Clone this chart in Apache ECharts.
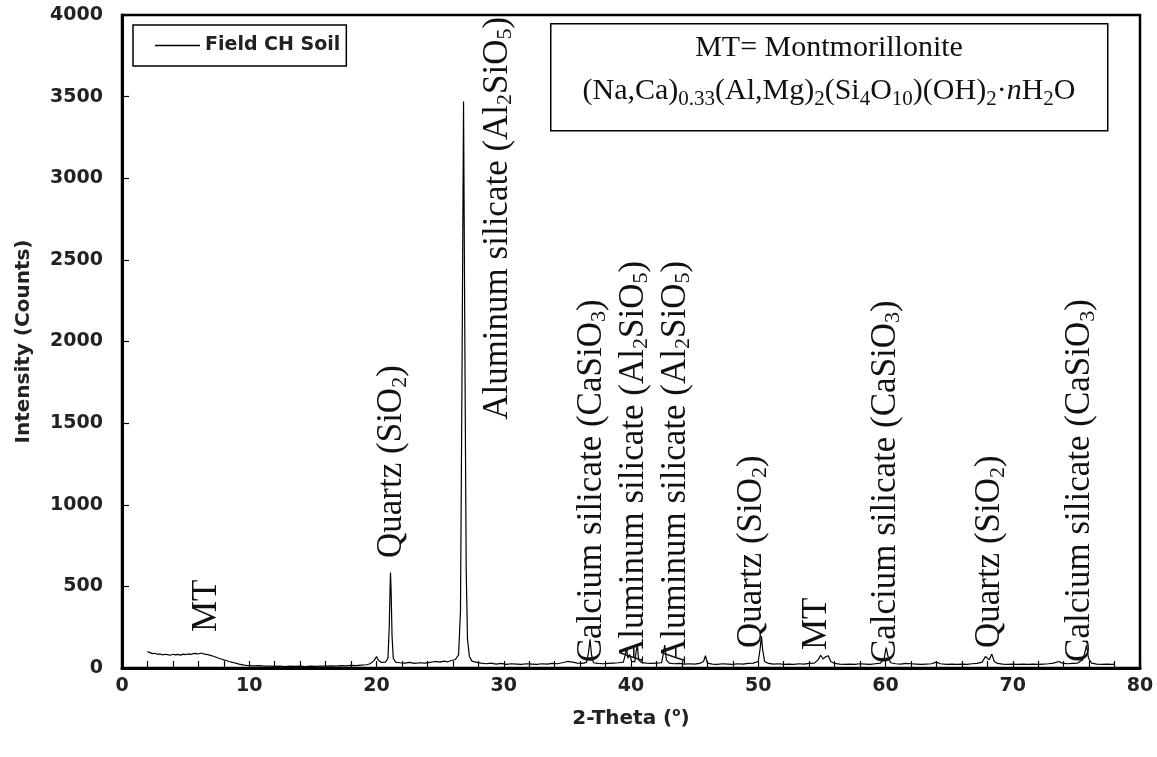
<!DOCTYPE html>
<html>
<head>
<meta charset="utf-8">
<title>XRD - Field CH Soil</title>
<script src="https://cdn.jsdelivr.net/npm/echarts@6/dist/echarts.min.js"></script>
<style>
  html, body { margin: 0; padding: 0; background: #fff; }
  #chart { width: 1157px; height: 757px; }
</style>
</head>
<body>
<div id="chart"></div>
<script>
// XRD pattern: 2-theta (deg) and intensity (counts)
var thetaDeg = [
  2.0, 2.2, 2.4, 2.6, 2.8, 3.0, 3.2, 3.4, 3.6, 3.8, 4.0, 4.2, 4.4, 4.6, 4.8, 5.0, 5.2, 5.4, 5.6, 5.8,
  6.0, 6.2, 6.4, 6.6, 6.8, 7.0, 7.2, 7.4, 7.6, 7.8, 8.0, 8.2, 8.4, 8.6, 8.8, 9.0, 9.2, 9.4, 9.6, 9.8,
  10.0, 10.4, 10.8, 11.2, 11.6, 12.0, 12.4, 12.8, 13.2, 13.6, 14.0, 14.4, 14.8, 15.2, 15.6, 16.0, 16.4, 16.8, 17.2, 17.6,
  18.0, 18.4, 18.8, 19.2, 19.5, 19.8, 20.0, 20.15, 20.4, 20.7, 20.9, 21.0, 21.07, 21.1, 21.15, 21.22, 21.32, 21.5, 21.8, 22.2,
  22.6, 23.0, 23.4, 23.8, 24.2, 24.6, 25.0, 25.3, 25.6, 25.9, 26.2, 26.45, 26.6, 26.72, 26.84, 26.95, 27.05, 27.15, 27.3, 27.5,
  27.8, 28.2, 28.6, 29.0, 29.4, 29.8, 30.2, 30.6, 31.0, 31.4, 31.8, 32.2, 32.6, 33.0, 33.4, 33.8, 34.2, 34.6, 35.0, 35.4,
  35.8, 36.2, 36.5, 36.65, 36.78, 36.9, 37.05, 37.4, 37.8, 38.2, 38.6, 39.0, 39.4, 39.55, 39.65, 39.75, 39.9, 40.05, 40.3, 40.42,
  40.5, 40.6, 40.8, 41.2, 41.6, 42.0, 42.4, 42.55, 42.65, 42.78, 43.0, 43.4, 43.8, 44.2, 44.6, 45.0, 45.4, 45.7, 45.85, 46.0,
  46.4, 46.8, 47.2, 47.6, 48.0, 48.4, 48.8, 49.2, 49.6, 50.0, 50.15, 50.25, 50.35, 50.5, 50.8, 51.2, 51.6, 52.0, 52.4, 52.8,
  53.2, 53.6, 54.0, 54.4, 54.7, 54.9, 55.1, 55.3, 55.5, 55.7, 56.0, 56.4, 56.8, 57.2, 57.6, 58.0, 58.4, 58.8, 59.2, 59.6,
  59.9, 60.05, 60.2, 60.4, 60.8, 61.2, 61.6, 62.0, 62.4, 62.8, 63.2, 63.6, 64.0, 64.3, 64.8, 65.2, 65.6, 66.0, 66.4, 66.8,
  67.2, 67.6, 67.85, 68.0, 68.15, 68.35, 68.55, 68.8, 69.2, 69.6, 70.0, 70.4, 70.8, 71.2, 71.6, 72.0, 72.4, 72.8, 73.2, 73.6,
  73.9, 74.3, 74.7, 75.1, 75.5, 75.7, 75.8, 75.95, 76.2, 76.6, 77.0, 77.4, 77.8, 78.0
];
var counts = [
  100, 94, 88, 90, 84, 86, 80, 84, 82, 78, 84, 80, 83, 79, 85, 82, 86, 83, 88, 90,
  86, 92, 87, 84, 80, 76, 72, 66, 60, 55, 50, 46, 40, 36, 32, 28, 24, 21, 18, 16,
  15, 13, 14, 11, 12, 10, 12, 9, 11, 10, 12, 9, 11, 10, 12, 11, 13, 12, 14, 13,
  16, 15, 18, 20, 26, 45, 70, 48, 34, 36, 60, 250, 500, 585, 470, 200, 60, 36, 32, 30,
  34, 28, 32, 30, 35, 40, 36, 42, 38, 46, 52, 80, 350, 1800, 3470, 1900, 600, 180, 70, 42,
  36, 30, 26, 30, 24, 28, 22, 26, 24, 22, 26, 24, 22, 26, 24, 28, 26, 32, 40, 36,
  30, 28, 34, 90, 175, 80, 32, 28, 26, 28, 30, 32, 36, 80, 125, 60, 82, 40, 38, 110,
  140, 50, 34, 30, 28, 30, 32, 90, 140, 50, 30, 26, 28, 24, 26, 24, 28, 40, 75, 30,
  24, 22, 26, 24, 22, 26, 24, 28, 30, 40, 120, 195, 110, 40, 28, 24, 26, 22, 24, 22,
  26, 24, 28, 30, 50, 78, 55, 70, 75, 40, 28, 24, 22, 24, 22, 26, 24, 22, 26, 30,
  60, 125, 70, 32, 26, 24, 28, 26, 24, 22, 24, 26, 36, 26, 22, 24, 22, 24, 22, 26,
  28, 36, 70, 80, 50, 85, 40, 28, 24, 22, 24, 22, 24, 22, 24, 22, 24, 26, 30, 40,
  30, 26, 28, 30, 50, 105, 140, 60, 30, 24, 22, 24, 22, 24
];

// phase annotations: where each label starts (2-theta, counts) and its text
var phaseTheta = [6.7, 21.2, 29.5, 36.9, 40.2, 43.5, 49.5, 54.6, 60.0, 68.2, 75.3];
var phaseCount = [220, 674, 1520, 35, 25, 25, 122, 110, 30, 122, 37];
var phaseNames = [
  'MT',
  'Quartz (SiO{s|2})',
  'Aluminum silicate (Al{s|2}SiO{s|5})',
  'Calcium silicate (CaSiO{s|3})',
  'Aluminum silicate (Al{s|2}SiO{s|5})',
  'Aluminum silicate (Al{s|2}SiO{s|5})',
  'Quartz (SiO{s|2})',
  'MT',
  'Calcium silicate (CaSiO{s|3})',
  'Quartz (SiO{s|2})',
  'Calcium silicate (CaSiO{s|3})'
];

var seriesName = 'Field CH Soil';
var noteLines = [
  'MT= Montmorillonite',
  '(Na,Ca){s|0.33}(Al,Mg){s|2}(Si{s|4}O{s|10})(OH){s|2}·{i|n}H{s|2}O'
];

var pattern = thetaDeg.map(function (t, i) { return [t, counts[i]]; });
var phases = phaseTheta.map(function (t, i) { return [t, phaseCount[i]]; });

var serif = 'Liberation Serif, Times New Roman, serif';
var sans = 'DejaVu Sans, sans-serif';

var chart = echarts.init(document.getElementById('chart'));

var option = {
  animation: false,
  backgroundColor: '#fff',
  grid: {
    left: 122,
    right: 17,
    top: 15,
    bottom: 89,
    show: true,
    borderColor: '#000',
    borderWidth: 2.5
  },
  legend: {
    left: 133,
    top: 25,
    data: [{ name: seriesName, icon: 'rect' }],
    itemWidth: 45,
    itemHeight: 1.5,
    itemGap: 5,
    padding: [11, 6, 11, 22],
    borderColor: '#000',
    borderWidth: 1.5,
    itemStyle: { color: '#000' },
    textStyle: {
      fontFamily: sans,
      fontWeight: 'bold',
      fontSize: 19,
      color: '#222'
    }
  },
  xAxis: {
    type: 'value',
    min: 0,
    max: 80,
    interval: 10,
    name: '2-Theta ({sup|o})',
    nameLocation: 'middle',
    nameGap: 39,
    nameTextStyle: {
      fontFamily: sans,
      fontWeight: 'bold',
      fontSize: 20,
      color: '#222',
      lineHeight: 24,
      rich: {
        sup: { fontFamily: sans, fontSize: 12, fontWeight: 'bold', height: 12, verticalAlign: 'top', color: '#222' }
      }
    },
    axisLine: { lineStyle: { color: '#000', width: 3 } },
    axisTick: { inside: true, length: 7, lineStyle: { color: '#000', width: 1.2 } },
    minorTick: { show: true, splitNumber: 5, length: 7, lineStyle: { color: '#000', width: 1.2 } },
    splitLine: { show: false },
    axisLabel: {
      margin: 9,
      fontFamily: sans,
      fontWeight: 'bold',
      fontSize: 19,
      color: '#222'
    }
  },
  yAxis: {
    type: 'value',
    min: 0,
    max: 4000,
    interval: 500,
    name: 'Intensity (Counts)',
    nameLocation: 'middle',
    nameGap: 88,
    nameTextStyle: {
      fontFamily: sans,
      fontWeight: 'bold',
      fontSize: 20,
      color: '#222'
    },
    axisLine: { show: true, lineStyle: { color: '#000', width: 3 } },
    axisTick: { show: true, inside: true, length: 7, lineStyle: { color: '#000', width: 1.2 } },
    splitLine: { show: false },
    axisLabel: {
      margin: 19,
      fontFamily: sans,
      fontWeight: 'bold',
      fontSize: 19,
      color: '#222',
      formatter: function (v) { return String(v); }
    }
  },
  graphic: [
    {
      type: 'rect',
      left: 550,
      top: 23,
      z: 100,
      shape: { width: 557, height: 107 },
      style: { fill: '#fff', stroke: '#000', lineWidth: 1.5 }
    },
    {
      type: 'text',
      x: 829,
      y: 70,
      z: 101,
      style: {
        text: noteLines.join('\n'),
        align: 'center',
        verticalAlign: 'middle',
        fontFamily: serif,
        fontSize: 30,
        lineHeight: 43,
        fill: '#111',
        rich: {
          s: { fontFamily: serif, fontSize: 21, height: 28, verticalAlign: 'bottom', fill: '#111' },
          i: { fontFamily: serif, fontSize: 30, fontStyle: 'italic', fill: '#111' }
        }
      }
    }
  ],
  series: [
    {
      name: seriesName,
      type: 'line',
      data: pattern,
      symbol: 'none',
      lineStyle: { color: '#000', width: 1.2 },
      itemStyle: { color: '#000' },
      z: 3
    },
    {
      name: 'phases',
      type: 'custom',
      data: phases,
      silent: true,
      clip: false,
      z: 4,
      renderItem: function (params, api) {
        var pt = api.coord([api.value(0), api.value(1)]);
        return {
          type: 'text',
          x: pt[0],
          y: pt[1],
          rotation: Math.PI / 2,
          style: {
            text: phaseNames[params.dataIndex],
            fill: '#111',
            fontFamily: serif,
            fontSize: 35,
            lineHeight: 38,
            align: 'left',
            verticalAlign: 'middle',
            rich: {
              s: { fontFamily: serif, fontSize: 22, height: 22, verticalAlign: 'bottom', fill: '#111' }
            }
          }
        };
      }
    }
  ]
};

chart.setOption(option);
</script>
</body>
</html>
